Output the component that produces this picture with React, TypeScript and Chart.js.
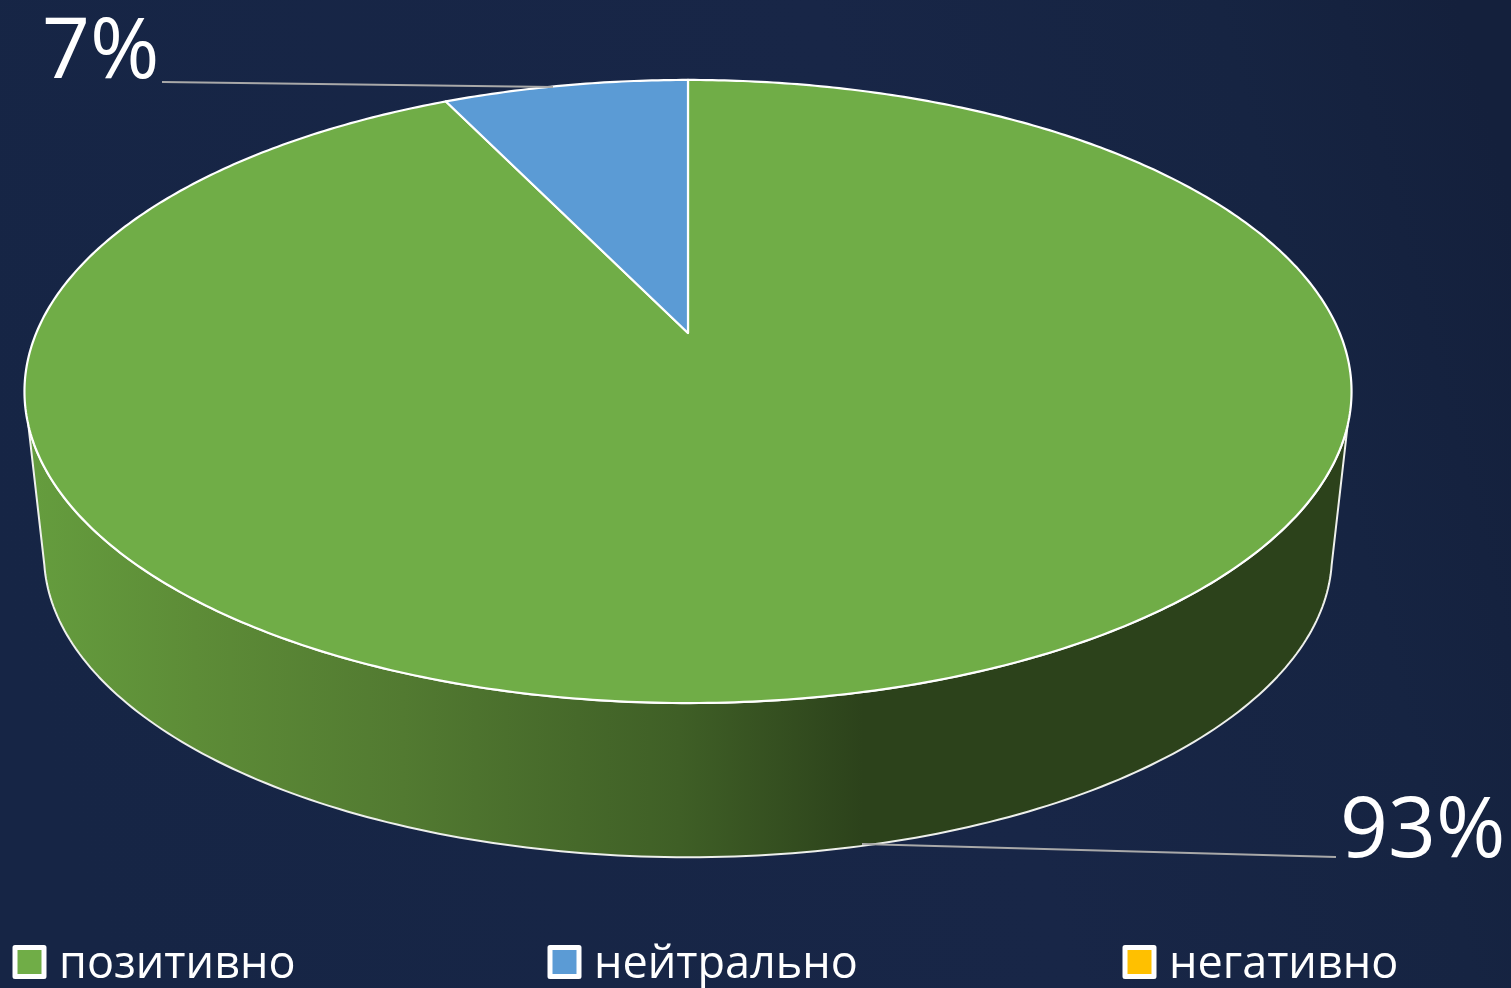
import React, { useEffect, useRef } from "react";
import { Chart, registerables } from "chart.js";

Chart.register(...registerables);

const categories = ["позитивно", "нейтрально", "негативно"];
const shares = [92.85, 7.15, 0];
const sliceColors = ["#70AD47", "#5B9BD5", "#FFC000"];

const FONT = '"Open Sans", "Noto Sans", sans-serif';

// projection of the flat pie on to a tilted plane seen in perspective
const view = { sx: 2.576, sy: 1.188, k: -0.1878, wallDrop: 165, wallScale: 0.9706 };

function project(arc: any, theta: number, rel: number, level: number) {
  const u = Math.sin(theta) * rel;
  const v = -Math.cos(theta) * rel;
  const w = 1 + view.k * v;
  const s = level ? view.wallScale : 1;
  return {
    x: arc.x + (s * view.sx * arc.outerRadius * u) / w,
    y: arc.y + (level ? view.wallDrop : 0) + (s * view.sy * arc.outerRadius * v) / w,
  };
}

function thetaFromV(v: number) {
  return Math.acos(-v); // right-hand side; the left side is 2π minus this
}

const pie3d = {
  id: "pie3d",
  beforeDraw(chart: any) {
    const { ctx, width, height } = chart;
    const g = ctx.createLinearGradient(0, height * 0.6, width, height * 0.2);
    g.addColorStop(0, "#162545");
    g.addColorStop(0.6, "#182647");
    g.addColorStop(0.85, "#162442");
    g.addColorStop(1, "#14203c");
    ctx.save();
    ctx.fillStyle = g;
    ctx.fillRect(0, 0, width, height);
    ctx.restore();
  },
  beforeDatasetDraw(chart: any, args: any) {
    const { ctx } = chart;
    const arcs = args.meta.data;
    ctx.save();
    ctx.lineJoin = "round";

    // side wall
    arcs.forEach((arc: any) => {
      const t0 = arc.startAngle + Math.PI / 2;
      const t1 = arc.endAngle + Math.PI / 2;
      const aTop = Math.max(t0, thetaFromV(0.29));
      const bTop = Math.min(t1, 2 * Math.PI - thetaFromV(0.29));
      const aBot = Math.max(t0, thetaFromV(0.22));
      const bBot = Math.min(t1, 2 * Math.PI - thetaFromV(0.22));
      if (bTop <= aTop) return;
      const grad = ctx.createLinearGradient(arc.x - 660, 0, arc.x + 175, 0);
      grad.addColorStop(0, "#659d3e");
      grad.addColorStop(0.2, "#5d8c37");
      grad.addColorStop(0.45, "#527a31");
      grad.addColorStop(0.78, "#3f5f26");
      grad.addColorStop(1, "#2c421b");
      ctx.beginPath();
      const n = 180;
      for (let i = 0; i <= n; i++) {
        const p = project(arc, aBot + ((bBot - aBot) * i) / n, 1, 1);
        if (i === 0) ctx.moveTo(p.x, p.y);
        else ctx.lineTo(p.x, p.y);
      }
      for (let i = n; i >= 0; i--) {
        const p = project(arc, aTop + ((bTop - aTop) * i) / n, 1, 0);
        ctx.lineTo(p.x, p.y);
      }
      ctx.closePath();
      ctx.fillStyle = grad;
      ctx.fill();
      ctx.strokeStyle = "#eef0ec";
      ctx.lineWidth = 2;
      ctx.stroke();
    });

    // top face
    arcs.forEach((arc: any) => {
      const t0 = arc.startAngle + Math.PI / 2;
      const t1 = arc.endAngle + Math.PI / 2;
      if (t1 - t0 <= 0) return;
      ctx.beginPath();
      ctx.moveTo(arc.x, arc.y);
      const n = Math.max(8, Math.ceil((t1 - t0) * 90));
      for (let i = 0; i <= n; i++) {
        const p = project(arc, t0 + ((t1 - t0) * i) / n, 1, 0);
        ctx.lineTo(p.x, p.y);
      }
      ctx.closePath();
      ctx.fillStyle = arc.options.backgroundColor;
      ctx.fill();
      ctx.strokeStyle = "#ffffff";
      ctx.lineWidth = 2.2;
      ctx.stroke();
    });
    ctx.restore();
    return false;
  },
  afterDatasetsDraw(chart: any, _args: any, opts: any) {
    const { ctx } = chart;
    const values = chart.data.datasets[0].data as number[];
    ctx.save();

    // data labels and leader lines
    opts.callouts.forEach((c: any) => {
      ctx.beginPath();
      ctx.moveTo(c.line[0], c.line[1]);
      ctx.lineTo(c.line[2], c.line[3]);
      ctx.strokeStyle = "#a9a9a9";
      ctx.lineWidth = 2;
      ctx.stroke();
      ctx.fillStyle = "#ffffff";
      ctx.font = `${opts.calloutSize}px ${FONT}`;
      ctx.textAlign = "left";
      ctx.textBaseline = "alphabetic";
      ctx.fillText(`${Math.round(values[c.index])}%`, c.x, c.y);
    });

    // legend
    chart.data.labels.forEach((label: string, i: number) => {
      const x = opts.legendX[i];
      ctx.fillStyle = chart.data.datasets[0].backgroundColor[i];
      ctx.strokeStyle = "#ffffff";
      ctx.lineWidth = 5;
      ctx.lineJoin = "round";
      ctx.beginPath();
      ctx.rect(x, opts.legendY, 29, 29);
      ctx.fill();
      ctx.stroke();
      ctx.fillStyle = "#ffffff";
      ctx.font = `${opts.legendSize}px ${FONT}`;
      ctx.textAlign = "left";
      ctx.textBaseline = "alphabetic";
      ctx.fillText(label, x + 44, opts.legendBase);
    });
    ctx.restore();
  },
};

export default function App() {
  const ref = useRef<HTMLCanvasElement | null>(null);
  useEffect(() => {
    const chart = new Chart(ref.current as HTMLCanvasElement, {
      type: "pie",
      data: {
        labels: categories,
        datasets: [{ data: shares, backgroundColor: sliceColors, borderColor: "#ffffff", borderWidth: 0 }],
      },
      options: {
        animation: false,
        responsive: false,
        layout: { padding: { left: 24, right: 159, top: 80, bottom: 402 } },
        plugins: {
          legend: { display: false },
          tooltip: { enabled: false },
          pie3d: {
            calloutSize: 84,
            legendSize: 45,
            legendX: [15, 550, 1125],
            legendY: 947.5,
            legendBase: 978,
            callouts: [
              { index: 1, x: 42, y: 78, line: [162, 82, 553, 87] },
              { index: 0, x: 1340, y: 857, line: [862, 844, 1336, 857] },
            ],
          },
        },
      } as any,
      plugins: [pie3d as any],
    });
    return () => chart.destroy();
  }, []);
  return (
    <div style={{ position: "absolute", left: 0, top: 0, width: 1511, height: 988, overflow: "hidden" }}>
      <canvas ref={ref} width={1511} height={988} style={{ display: "block" }} />
    </div>
  );
}
